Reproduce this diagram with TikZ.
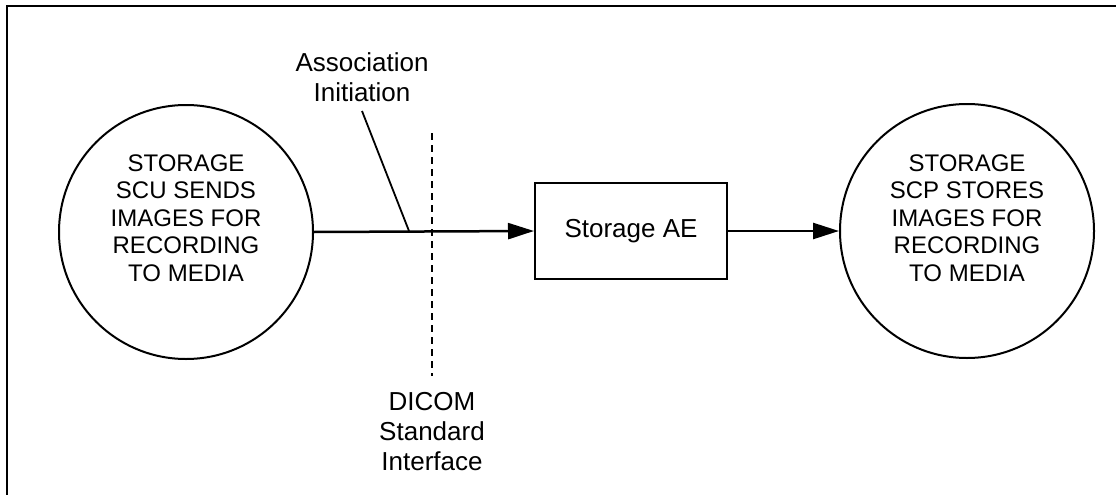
\documentclass[tikz,border=0pt]{standalone}
\usepackage{fontspec}
\setmainfont{Liberation Sans}
\usetikzlibrary{arrows.meta}
\begin{document}
\begin{tikzpicture}[x=1pt,y=-1pt,
  txt/.style={align=center,font=\fontsize{26}{30}\selectfont,inner sep=0pt},
  ctxt/.style={align=center,font=\fontsize{24}{27.5}\selectfont,inner sep=0pt},
  bubble/.style={circle,draw,line width=2pt,minimum size=254pt,inner sep=0pt},
  aebox/.style={draw,line width=2pt,minimum width=192pt,minimum height=96pt,inner sep=0pt,font=\fontsize{26}{30}\selectfont},
  flow/.style={line width=2.5pt,-{Triangle[length=26pt,width=16pt]}},
  leader/.style={line width=1.8pt},
  iface/.style={line width=1.8pt,dash pattern=on 7pt off 5pt}]
\useasboundingbox (0,0) rectangle (1116,495);
\draw[line width=2.5pt] (7,495) -- (7,6) -- (1116,6);
\node[bubble] (scu) at (186,232) {};
\node[ctxt] (scutext) at (186,218) {STORAGE\\SCU SENDS\\IMAGES FOR\\RECORDING\\TO MEDIA};
\node[bubble] (scp) at (967,231) {};
\node[ctxt] (scptext) at (967,218) {STORAGE\\SCP STORES\\IMAGES FOR\\RECORDING\\TO MEDIA};
\node[aebox] (ae) at (631,231) {Storage AE};
\draw[flow] (scu.east) -- (ae.west);
\draw[flow] (ae.east) -- (scp.west);
\node[txt] (assoc) at (362,77) {Association\\Initiation};
\coordinate (ltop) at (362,111);
\coordinate (lbot) at (409,231);
\draw[leader] (ltop) -- (lbot);
\node[txt] (dicom) at (432,432) {DICOM\\Standard\\Interface};
\coordinate (dtop) at (432,133);
\coordinate (dbot) at (432,376);
\draw[iface] (dtop) -- (dbot);
\end{tikzpicture}
\end{document}
